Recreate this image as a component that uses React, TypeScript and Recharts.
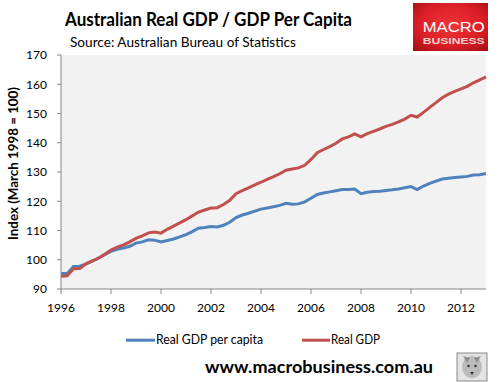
import React from "react";
import { LineChart, Line, XAxis, YAxis, CartesianGrid, Legend } from "recharts";

const FONT = "Lato, 'Open Sans', sans-serif";

const months = ["Mar", "Jun", "Sep", "Dec"];
const years = [1996, 1997, 1998, 1999, 2000, 2001, 2002, 2003, 2004, 2005, 2006, 2007, 2008, 2009, 2010, 2011, 2012, 2013];
const quarters = years.flatMap((y) => months.map((m) => `${m} ${y}`)).slice(0, 69);

const gdpPerCapita = [
  95.3, 95.3, 97.7, 97.8, 98.6, 99.5, 100.6, 101.7, 102.9, 103.6,
  104.0, 104.6, 105.7, 106.1, 106.8, 106.7, 106.1, 106.6, 107.1, 107.8,
  108.6, 109.6, 110.8, 111.0, 111.4, 111.2, 111.8, 112.8, 114.4, 115.3,
  115.9, 116.6, 117.3, 117.7, 118.1, 118.6, 119.3, 119.0, 119.1, 119.8,
  121.0, 122.3, 122.8, 123.2, 123.6, 124.0, 124.0, 124.2, 122.6, 123.1,
  123.3, 123.4, 123.7, 123.9, 124.2, 124.6, 125.0, 124.0, 125.2, 126.1,
  126.9, 127.6, 127.9, 128.1, 128.3, 128.5, 129.0, 129.1, 129.5,
];

const realGdp = [
  94.4, 94.5, 96.9, 97.0, 98.6, 99.6, 100.5, 101.9, 103.3, 104.3,
  105.1, 106.1, 107.3, 108.2, 109.2, 109.5, 109.1, 110.4, 111.5, 112.6,
  113.7, 115.0, 116.3, 117.0, 117.7, 117.8, 118.9, 120.3, 122.6, 123.6,
  124.6, 125.6, 126.5, 127.5, 128.4, 129.4, 130.6, 131.0, 131.4, 132.3,
  134.3, 136.6, 137.7, 138.7, 139.8, 141.3, 142.0, 143.0, 142.0, 143.1,
  143.9, 144.7, 145.6, 146.3, 147.1, 148.1, 149.4, 148.8, 150.4, 152.1,
  153.7, 155.4, 156.6, 157.6, 158.4, 159.3, 160.5, 161.5, 162.5,
];

const xTicks = ["Mar 1996", "Mar 1998", "Mar 2000", "Mar 2002", "Mar 2004", "Mar 2006", "Mar 2008", "Mar 2010", "Mar 2012"];
const yTicks = [90, 100, 110, 120, 130, 140, 150, 160, 170];

const SERIES_PER_CAPITA = "Real GDP per capita";
const SERIES_GDP = "Real GDP";

const data = quarters.map((q, i) => ({ quarter: q, perCapita: gdpPerCapita[i], gdp: realGdp[i] }));

const BLUE = "#4F81BD";
const RED = "#C0504D";
const AXIS = "#868686";

const LEGEND_SLOTS: Record<string, { x: number; len: number; w: number }> = {
  perCapita: { x: 6, len: 29, w: 107 },
  gdp: { x: 182, len: 28, w: 49 },
};

const renderLegend = (props: any) => {
  const payload = props.payload || [];
  return (
    <svg width={280} height={30} style={{ display: "block" }}>
      {payload.map((p: any) => {
        const s = LEGEND_SLOTS[p.dataKey] || LEGEND_SLOTS.perCapita;
        return (
          <g key={p.dataKey}>
            <line x1={s.x} x2={s.x + s.len} y1={14.2} y2={14.2} stroke={p.color} strokeWidth={3} />
            <text
              x={s.x + s.len + 1}
              y={18.3}
              fontSize={12.5}
              fontFamily={FONT}
              fill="#000"
              textLength={s.w}
              lengthAdjust="spacingAndGlyphs"
            >
              {p.value}
            </text>
          </g>
        );
      })}
    </svg>
  );
};

export default function App() {
  return (
    <div style={{ position: "absolute", left: 0, top: 0, width: 502, height: 382, background: "#fff" }}>
      <LineChart width={502} height={382} data={data} margin={{ top: 55, right: 16, bottom: 63, left: 0 }}>
        <CartesianGrid fill="#F2F2F2" horizontal={false} vertical={false} />
        <XAxis
          dataKey="quarter"
          type="category"
          ticks={xTicks}
          interval={0}
          tickFormatter={(s: string) => s.slice(4)}
          height={30}
          tickSize={5}
          tickMargin={9}
          axisLine={{ stroke: AXIS }}
          tickLine={{ stroke: AXIS }}
          tick={{ fill: "#000", fontSize: 12, fontFamily: FONT }}
        />
        <YAxis
          domain={[90, 170]}
          ticks={yTicks}
          interval={0}
          width={61}
          tickSize={4}
          tickMargin={10}
          axisLine={{ stroke: AXIS }}
          tickLine={{ stroke: AXIS }}
          tick={{ fill: "#000", fontSize: 12, fontFamily: FONT }}
        />
        <Legend
          layout="horizontal"
          verticalAlign="middle"
          align="center"
          wrapperStyle={{ top: 326, left: 120, width: 280, height: 30 }}
          content={renderLegend}
        />
        <Line
          type="linear"
          dataKey="perCapita"
          name={SERIES_PER_CAPITA}
          stroke={BLUE}
          strokeWidth={3}
          dot={false}
          isAnimationActive={false}
        />
        <Line
          type="linear"
          dataKey="gdp"
          name={SERIES_GDP}
          stroke={RED}
          strokeWidth={3}
          dot={false}
          isAnimationActive={false}
        />
      </LineChart>
      <svg
        width={502}
        height={382}
        style={{ position: "absolute", left: 0, top: 0, pointerEvents: "none" }}
      >
        <defs>
          <radialGradient id="logoGrad" cx="50%" cy="45%" r="70%">
            <stop offset="0%" stopColor="#F0353A" />
            <stop offset="60%" stopColor="#DC1F26" />
            <stop offset="100%" stopColor="#A90F16" />
          </radialGradient>
        </defs>
        <text
          x={65}
          y={26}
          fontSize={18.5}
          fontWeight="bold"
          fontFamily={FONT}
          fill="#000"
          textLength={287}
          lengthAdjust="spacingAndGlyphs"
        >
          Australian Real GDP / GDP Per Capita
        </text>
        <text
          x={70}
          y={47}
          fontSize={13.5}
          fontFamily={FONT}
          fill="#000"
          textLength={226}
          lengthAdjust="spacingAndGlyphs"
        >
          Source: Australian Bureau of Statistics
        </text>
        <rect x={413} y={3} width={75} height={48} fill="url(#logoGrad)" />
        <text
          x={422.7}
          y={31.5}
          fontSize={15.5}
          fontFamily="'Liberation Sans', Arial, sans-serif"
          fill="#fff"
          textLength={62}
          lengthAdjust="spacingAndGlyphs"
        >
          MACRO
        </text>
        <text
          x={422.7}
          y={43.5}
          fontSize={9}
          fontWeight="bold"
          fontFamily="'Liberation Sans', Arial, sans-serif"
          fill="#F6D2D2"
          textLength={62}
          lengthAdjust="spacingAndGlyphs"
        >
          BUSINESS
        </text>
        <text
          x={12.5}
          y={163.5}
          transform="rotate(-90 12.5 163.5)"
          textAnchor="middle"
          dominantBaseline="central"
          fontSize={13}
          fontWeight="bold"
          fontFamily={FONT}
          fill="#000"
          textLength={153}
          lengthAdjust="spacingAndGlyphs"
        >
          Index (March 1998 = 100)
        </text>
        <text
          x={205}
          y={373}
          fontSize={17}
          fontWeight="bold"
          fontFamily={FONT}
          fill="#000"
          textLength={228}
          lengthAdjust="spacingAndGlyphs"
        >
          www.macrobusiness.com.au
        </text>
        <rect x={457} y={353} width={30} height={28} fill="#E4E4E4" stroke="#8A8A8A" strokeWidth={1} />
        <ellipse cx={472} cy={367} rx={10} ry={11} fill="#9A9A9A" opacity={0.55} />
        <path d="M463 356 L467 363 L470 358 Z M481 356 L477 363 L474 358 Z" fill="#777" opacity={0.7} />
        <circle cx={468.5} cy={366} r={1.2} fill="#333" />
        <circle cx={475.5} cy={366} r={1.2} fill="#333" />
        <path d="M470 372 L472 375 L474 372 Z" fill="#333" />
      </svg>
    </div>
  );
}
